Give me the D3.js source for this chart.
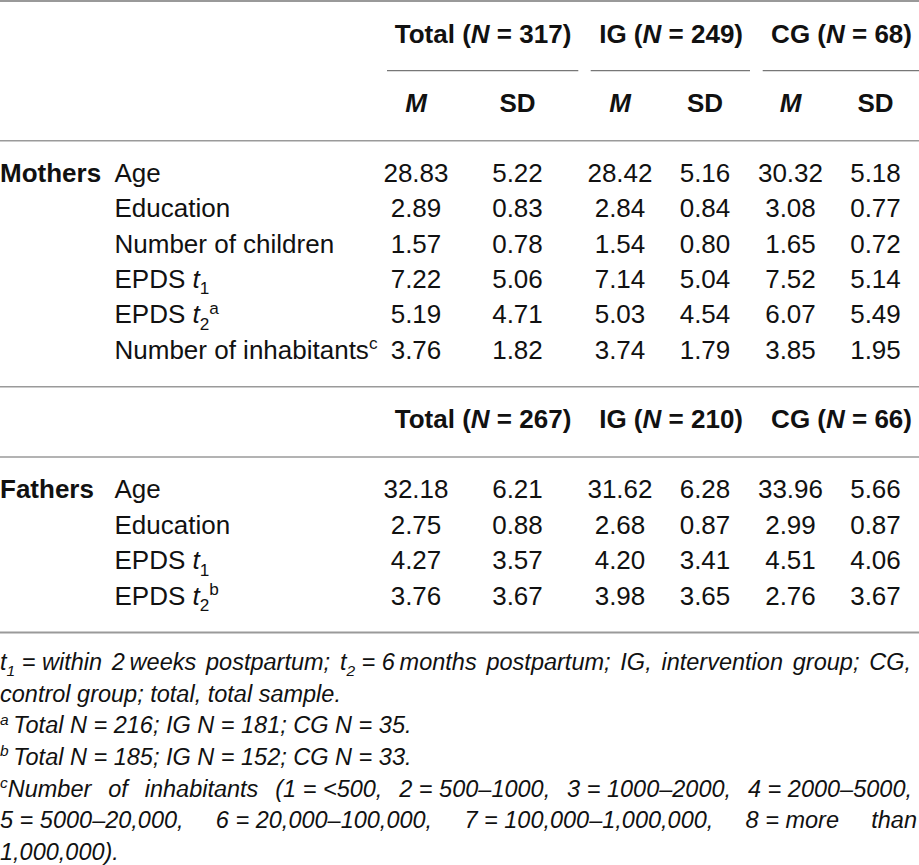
<!DOCTYPE html>
<html lang="en">
<head>
<meta charset="UTF-8">
<title>Sample characteristics</title>
<script src="https://cdn.jsdelivr.net/npm/d3@7"></script>
<style>
  body { margin: 0; background: #fff; }
  svg text { font-family: "Liberation Sans", Arial, Helvetica, sans-serif; fill: #111; }
</style>
</head>
<body>
<script>
// ---- data ----
var groups = ["Total", "IG", "CG"];
var stats = ["M", "SD"];
var motherN = [317, 249, 68];
var fatherN = [267, 210, 66];

var motherLabels = ["Age", "Education", "Number of children", "EPDS {i:t}{sub:1}",
                    "EPDS {i:t}{sub:2}{sup:a}", "Number of inhabitants{sup:c}"];
// Total M, Total SD, IG M, IG SD, CG M, CG SD
var motherValues = [
    [28.83, 5.22, 28.42, 5.16, 30.32, 5.18],
    [2.89, 0.83, 2.84, 0.84, 3.08, 0.77],
    [1.57, 0.78, 1.54, 0.80, 1.65, 0.72],
    [7.22, 5.06, 7.14, 5.04, 7.52, 5.14],
    [5.19, 4.71, 5.03, 4.54, 6.07, 5.49],
    [3.76, 1.82, 3.74, 1.79, 3.85, 1.95]
];

var fatherLabels = ["Age", "Education", "EPDS {i:t}{sub:1}", "EPDS {i:t}{sub:2}{sup:b}"];
var fatherValues = [
    [32.18, 6.21, 31.62, 6.28, 33.96, 5.66],
    [2.75, 0.88, 2.68, 0.87, 2.99, 0.87],
    [4.27, 3.57, 4.20, 3.41, 4.51, 4.06],
    [3.76, 3.67, 3.98, 3.65, 2.76, 3.67]
];

var nb = "\u00A0", thin = "\u2009";
var footnotes = [
    "t{sub:1}" + nb + "=" + nb + "within 2" + thin + "weeks postpartum; t{sub:2}" + nb + "=" + nb + "6" + thin + "months postpartum; IG, intervention group; CG,",
    "control group; total, total sample.",
    "{sup:a}" + thin + "Total N" + nb + "=" + nb + "216; IG N" + nb + "=" + nb + "181; CG N" + nb + "=" + nb + "35.",
    "{sup:b}" + thin + "Total N" + nb + "=" + nb + "185; IG N" + nb + "=" + nb + "152; CG N" + nb + "=" + nb + "33.",
    "{sup:c}Number of inhabitants (1" + nb + "=" + nb + "<500, 2" + nb + "=" + nb + "500–1000, 3" + nb + "=" + nb + "1000–2000, 4" + nb + "=" + nb + "2000–5000,",
    "5" + nb + "=" + nb + "5000–20,000, 6" + nb + "=" + nb + "20,000–100,000, 7" + nb + "=" + nb + "100,000–1,000,000, 8" + nb + "=" + nb + "more than",
    "1,000,000)."
];
var footJustify = [911, null, null, null, 912, 917, null];

// ---- layout ----
var width = 919, height = 865;
var fs = 26, footFs = 23.5;
var svg = d3.select("body").append("svg").attr("width", width).attr("height", height);

var cols = [];
groups.forEach(function(g){ stats.forEach(function(s){ cols.push(g + " " + s); }); });
var colX = d3.scaleOrdinal().domain(cols).range([416, 517.5, 620, 705, 790.5, 875.5]);
var groupSpan = d3.scaleOrdinal().domain(groups).range([[387, 578.3], [590.7, 750], [762.7, 919]]);
var rowStep = 35.4;
var fmt = d3.format(".2f");

// rich text: {i:..} italic, {sub:..} subscript, {sup:..} superscript
function rich(text, str, size) {
    var shift = 0, m;
    var re = /\{(i|sub|sup):([^}]*)\}|([^{]+)/g;
    while ((m = re.exec(str))) {
        var kind = m[1] || "n", s = m[1] ? m[2] : m[3];
        var target = kind === "sub" ? size * 0.25 : kind === "sup" ? -size * 0.36 : 0;
        var ts = text.append("tspan").text(s);
        if (target !== shift) ts.attr("dy", target - shift);
        shift = target;
        if (kind === "i") ts.style("font-style", "italic");
        if (kind === "sub" || kind === "sup") ts.style("font-size", (size * 0.66) + "px");
    }
}

function hline(y, x1, x2, color, w) {
    svg.append("line").attr("x1", x1).attr("x2", x2).attr("y1", y).attr("y2", y)
        .attr("stroke", color).attr("stroke-width", w);
}

function header(ns, yBase, withSub) {
    groups.forEach(function(g, i){
        var span = groupSpan(g);
        var t = svg.append("text").attr("x", span[1] - 7).attr("y", yBase)
            .attr("text-anchor", "end").style("font-weight", "bold").style("font-size", fs + "px");
        rich(t, g + " ({i:N} = " + ns[i] + ")", fs);
        if (withSub) hline(70.7, span[0], span[1], "#777", 1.2);
    });
    if (withSub) {
        svg.selectAll(".stat").data(cols).enter().append("text")
            .attr("class", "stat")
            .attr("x", function(d){ return colX(d); })
            .attr("y", 111.7)
            .attr("text-anchor", "middle")
            .style("font-weight", "bold")
            .style("font-style", function(d){ return /M$/.test(d) ? "italic" : "normal"; })
            .style("font-size", fs + "px")
            .text(function(d){ return d.split(" ")[1]; });
    }
}

function block(name, labels, values, y0, cls) {
    var y = d3.scaleLinear().domain([0, 1]).range([y0, y0 + rowStep]);
    svg.append("text").attr("x", 0).attr("y", y(0))
        .style("font-weight", "bold").style("font-size", fs + "px").text(name);
    svg.selectAll(".lab-" + cls).data(labels).enter().append("text")
        .attr("class", "lab-" + cls)
        .attr("x", 114.5)
        .attr("y", function(d, i){ return y(i); })
        .style("font-size", fs + "px")
        .each(function(d){ rich(d3.select(this), d, fs); });
    var rows = svg.selectAll(".row-" + cls).data(values).enter().append("g")
        .attr("class", "row-" + cls);
    rows.selectAll("text").data(function(d, i){ return d.map(function(v, j){ return {v: v, c: cols[j], r: i}; }); })
        .enter().append("text")
        .attr("x", function(d){ return colX(d.c); })
        .attr("y", function(d){ return y(d.r); })
        .attr("text-anchor", "middle")
        .style("font-size", fs + "px")
        .text(function(d){ return fmt(d.v); });
}

// rules
hline(1, 0, width, "#999", 2);
hline(140.7, 0, width, "#9a9a9a", 1.5);
hline(386.7, 0, width, "#9a9a9a", 1.5);
hline(457, 0, width, "#9a9a9a", 1.5);
hline(632.5, 0, width, "#9a9a9a", 2);

header(motherN, 42.7, true);
block("Mothers", motherLabels, motherValues, 181.7, "m");
header(fatherN, 428, false);
block("Fathers", fatherLabels, fatherValues, 498.3, "f");

// footnotes
var fy = d3.scaleLinear().domain([0, 1]).range([670, 701.65]);
footnotes.forEach(function(line, i){
    var g = svg.append("g").attr("class", "foot");
    var target = footJustify[i];
    if (!target) {
        var t = g.append("text").attr("x", 0).attr("y", fy(i))
            .style("font-style", "italic").style("font-size", footFs + "px");
        rich(t, line, footFs);
        return;
    }
    var words = line.split(" ");
    var nodes = words.map(function(w){
        var t = g.append("text").attr("y", fy(i))
            .style("font-style", "italic").style("font-size", footFs + "px");
        rich(t, w, footFs);
        return t;
    });
    var widths = nodes.map(function(t){ return t.node().getComputedTextLength(); });
    var gap = (target - d3.sum(widths)) / (words.length - 1);
    var x = 0;
    nodes.forEach(function(t, k){ t.attr("x", x); x += widths[k] + gap; });
});
</script>
</body>
</html>
